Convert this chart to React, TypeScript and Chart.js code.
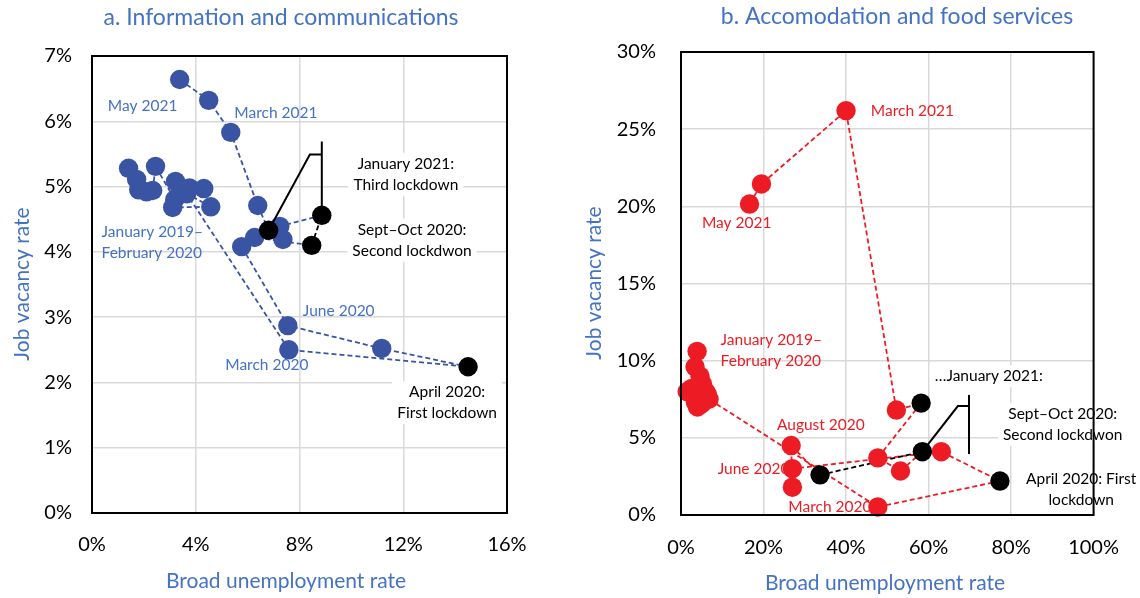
import React, { useEffect, useRef } from "react";
import { Chart, registerables } from "chart.js";

Chart.register(...registerables);

const FONT = "Lato, 'Open Sans', sans-serif";
const TEXT_BLUE = "#4472C4";
const MARK_BLUE = "#3A54A4";
const RED = "#ED1C24";
const BLACK = "#000000";
const GRID = "#D9D9D9";

// Monthly observations, January 2019 to May 2021
const months = [
  "Jan 2019", "Feb 2019", "Mar 2019", "Apr 2019", "May 2019", "Jun 2019", "Jul 2019",
  "Aug 2019", "Sep 2019", "Oct 2019", "Nov 2019", "Dec 2019", "Jan 2020", "Feb 2020",
  "Mar 2020", "Apr 2020", "May 2020", "Jun 2020", "Jul 2020", "Aug 2020", "Sep 2020",
  "Oct 2020", "Nov 2020", "Dec 2020", "Jan 2021", "Feb 2021", "Mar 2021", "Apr 2021",
  "May 2021",
];

// Lockdown months are marked in black
const lockdownMonths = ["Apr 2020", "Sep 2020", "Oct 2020", "Jan 2021"];

// a. Information and communications (percent)
const ictUnemployment = [
  1.41, 1.72, 1.8, 2.1, 2.34, 2.45, 3.19, 3.22, 3.76, 4.31, 3.11, 4.58, 3.4, 3.65,
  7.59, 14.5, 11.17, 7.55, 5.77, 6.27, 8.47, 8.86, 7.24, 7.36, 6.81, 6.39, 5.35, 4.5, 3.38,
];
const ictVacancy = [
  5.28, 5.11, 4.95, 4.92, 4.94, 5.31, 4.8, 5.08, 4.98, 4.97, 4.68, 4.69, 4.95, 4.89,
  2.5, 2.24, 2.52, 2.87, 4.08, 4.22, 4.1, 4.56, 4.39, 4.19, 4.33, 4.71, 5.83, 6.32, 6.64,
];

// b. Accommodation and food services (percent)
const foodUnemployment = [
  3.9, 3.4, 4.6, 5.2, 1.5, 2.6, 4.0, 6.0, 5.5, 3.5, 5.0, 6.4, 4.0, 6.8,
  47.7, 77.3, 63.1, 27.0, 27.0, 26.7, 33.7, 58.5, 53.2, 47.7, 58.2, 52.2, 40.0, 19.5, 16.6,
];
const foodVacancy = [
  10.6, 9.6, 9.0, 8.5, 8.0, 8.2, 8.3, 8.0, 7.6, 7.3, 7.2, 7.8, 7.0, 7.5,
  0.52, 2.2, 4.1, 3.0, 1.8, 4.5, 2.6, 4.1, 2.85, 3.7, 7.25, 6.8, 26.2, 21.45, 20.15,
];

type Note = {
  lines: string[];
  x: number;
  y: number;
  color: string;
  align: CanvasTextAlign;
  boxed?: boolean;
};

type Callout = {
  month: string;
  path: [number, number][];
  bar: [number, number, number];
};

type PanelSpec = {
  title: string;
  xs: number[];
  ys: number[];
  markColor: string;
  xMax: number;
  xStep: number;
  yMax: number;
  yStep: number;
  notes: Note[];
  callout: Callout;
  left: number;
  width: number;
  padTop: number;
  padRight: number;
  yAxisWidth: number;
  xAxisHeight: number;
  yTickPad: number;
  xTickPad: number;
  titlePos: [number, number];
  xTitlePos: [number, number];
  yTitlePos: [number, number];
};

const ictPanel: PanelSpec = {
  title: "a. Information and communications",
  xs: ictUnemployment,
  ys: ictVacancy,
  markColor: MARK_BLUE,
  xMax: 16,
  xStep: 4,
  yMax: 7,
  yStep: 1,
  notes: [
    { lines: ["May 2021"], x: 1.95, y: 6.24, color: TEXT_BLUE, align: "center" },
    { lines: ["March 2021"], x: 7.09, y: 6.13, color: TEXT_BLUE, align: "center" },
    { lines: ["January 2019–", "February 2020"], x: 0.37, y: 4.31, color: TEXT_BLUE, align: "left" },
    { lines: ["June 2020"], x: 8.13, y: 3.1, color: TEXT_BLUE, align: "left" },
    { lines: ["March 2020"], x: 6.74, y: 2.26, color: TEXT_BLUE, align: "center" },
    { lines: ["January 2021:", "Third lockdown"], x: 12.1, y: 5.35, color: BLACK, align: "center", boxed: true },
    { lines: ["Sept–Oct 2020:", "Second lockdwon"], x: 12.34, y: 4.34, color: BLACK, align: "center", boxed: true },
    { lines: ["April 2020:", "First lockdown"], x: 13.69, y: 1.85, color: BLACK, align: "center", boxed: true },
  ],
  callout: { month: "Jan 2021", path: [[8.4, 5.49], [8.86, 5.49]], bar: [8.86, 5.69, 4.56] },
  left: 0,
  width: 570,
  padTop: 56,
  padRight: 63,
  yAxisWidth: 92,
  xAxisHeight: 85,
  yTickPad: 20,
  xTickPad: 20,
  titlePos: [281, 18],
  xTitlePos: [286, 581],
  yTitlePos: [22, 284],
};

const foodPanel: PanelSpec = {
  title: "b. Accomodation and food services",
  xs: foodUnemployment,
  ys: foodVacancy,
  markColor: RED,
  xMax: 100,
  xStep: 20,
  yMax: 30,
  yStep: 5,
  notes: [
    { lines: ["March 2021"], x: 46.0, y: 26.2, color: RED, align: "left" },
    { lines: ["May 2021"], x: 13.5, y: 18.9, color: RED, align: "center" },
    { lines: ["January 2019–", "February 2020"], x: 9.6, y: 11.34, color: RED, align: "left" },
    { lines: ["August 2020"], x: 33.9, y: 5.83, color: RED, align: "center" },
    { lines: ["June 2020"], x: 17.6, y: 2.98, color: RED, align: "center" },
    { lines: ["March 2020"], x: 36.1, y: 0.52, color: RED, align: "center" },
    { lines: ["…January 2021:"], x: 74.6, y: 9.0, color: BLACK, align: "center", boxed: true },
    { lines: ["Sept–Oct 2020:", "Second lockdwon"], x: 92.5, y: 6.55, color: BLACK, align: "center", boxed: true },
    { lines: ["April 2020: First", "lockdown"], x: 97.0, y: 2.35, color: BLACK, align: "center", boxed: true },
  ],
  callout: { month: "Oct 2020", path: [[67.1, 7.06], [69.8, 7.06]], bar: [69.8, 7.78, 3.95] },
  left: 570,
  width: 570,
  padTop: 52,
  padRight: 43,
  yAxisWidth: 111,
  xAxisHeight: 83,
  yTickPad: 25,
  xTickPad: 21,
  titlePos: [327, 17],
  xTitlePos: [315, 583],
  yTitlePos: [24, 283],
};

const NOTE_SIZE = 15.5;
const NOTE_GAP = 21;

function decorations(p: PanelSpec) {
  return {
    id: "decorations",
    afterDatasetsDraw(chart: any) {
      const { ctx } = chart;
      const xs = chart.scales.x;
      const ys = chart.scales.y;
      const px = (v: number) => xs.getPixelForValue(v);
      const py = (v: number) => ys.getPixelForValue(v);

      ctx.save();
      ctx.strokeStyle = BLACK;
      ctx.lineWidth = 2;
      ctx.setLineDash([]);
      const i = months.indexOf(p.callout.month);
      ctx.beginPath();
      ctx.moveTo(px(p.xs[i]), py(p.ys[i]));
      for (const [cx, cy] of p.callout.path) ctx.lineTo(px(cx), py(cy));
      ctx.stroke();
      const [bx, by1, by2] = p.callout.bar;
      ctx.beginPath();
      ctx.moveTo(px(bx), py(by1));
      ctx.lineTo(px(bx), py(by2));
      ctx.stroke();

      ctx.font = `${NOTE_SIZE}px ${FONT}`;
      ctx.textBaseline = "middle";
      for (const n of p.notes) {
        const x0 = px(n.x);
        const y0 = py(n.y);
        ctx.textAlign = n.align;
        if (n.boxed) {
          const w = Math.max(...n.lines.map((l) => ctx.measureText(l).width));
          const left = n.align === "center" ? x0 - w / 2 : n.align === "left" ? x0 : x0 - w;
          ctx.fillStyle = "#ffffff";
          ctx.fillRect(left - 5, y0 - 11, w + 10, (n.lines.length - 1) * NOTE_GAP + 22);
        }
        ctx.fillStyle = n.color;
        n.lines.forEach((l, k) => ctx.fillText(l, x0, y0 + k * NOTE_GAP));
      }
      ctx.restore();
    },
    afterDraw(chart: any) {
      const { ctx, chartArea: a } = chart;
      ctx.save();
      ctx.strokeStyle = BLACK;
      ctx.lineWidth = 2;
      ctx.setLineDash([]);
      ctx.strokeRect(a.left, a.top, a.right - a.left, a.bottom - a.top);

      ctx.fillStyle = TEXT_BLUE;
      ctx.textAlign = "center";
      ctx.textBaseline = "middle";
      ctx.font = `23px ${FONT}`;
      ctx.fillText(p.title, p.titlePos[0], p.titlePos[1]);
      ctx.font = `21px ${FONT}`;
      ctx.fillText("Broad unemployment rate", p.xTitlePos[0], p.xTitlePos[1]);
      ctx.translate(p.yTitlePos[0], p.yTitlePos[1]);
      ctx.rotate(-Math.PI / 2);
      ctx.fillText("Job vacancy rate", 0, 0);
      ctx.restore();
    },
  };
}

function buildConfig(p: PanelSpec): any {
  const isLock = (i: number) => lockdownMonths.includes(months[i]);
  const pointColors = months.map((_, i) => (isLock(i) ? BLACK : p.markColor));
  const tickFont = { family: FONT, size: 20 };
  return {
    type: "scatter",
    data: {
      datasets: [
        {
          label: p.title,
          data: p.xs.map((x, i) => ({ x, y: p.ys[i] })),
          showLine: true,
          borderColor: p.markColor,
          borderWidth: 1.8,
          borderDash: [5, 3],
          segment: {
            borderColor: (c: any) =>
              isLock(c.p0DataIndex) && isLock(c.p1DataIndex) ? BLACK : p.markColor,
          },
          pointRadius: 9.7,
          pointHoverRadius: 9.7,
          pointBorderWidth: 0,
          pointBackgroundColor: pointColors,
          pointBorderColor: pointColors,
          clip: false,
        },
      ],
    },
    options: {
      animation: false,
      responsive: false,
      devicePixelRatio: 1,
      layout: { padding: { left: 0, top: p.padTop, right: p.padRight, bottom: 0 } },
      plugins: { legend: { display: false }, tooltip: { enabled: false }, title: { display: false } },
      events: [],
      scales: {
        x: {
          type: "linear",
          min: 0,
          max: p.xMax,
          border: { display: false },
          grid: { color: GRID, lineWidth: 1.5, drawTicks: false },
          ticks: {
            stepSize: p.xStep,
            padding: p.xTickPad,
            color: BLACK,
            font: tickFont,
            maxRotation: 0,
            callback: (v: number) => `${v}%`,
          },
          afterFit: (s: any) => {
            s.height = p.xAxisHeight;
          },
        },
        y: {
          type: "linear",
          min: 0,
          max: p.yMax,
          border: { display: false },
          grid: { color: GRID, lineWidth: 1.5, drawTicks: false },
          ticks: {
            stepSize: p.yStep,
            padding: p.yTickPad,
            color: BLACK,
            font: tickFont,
            callback: (v: number) => `${v}%`,
          },
          afterFit: (s: any) => {
            s.width = p.yAxisWidth;
          },
        },
      },
    },
    plugins: [decorations(p)],
  };
}

function Panel({ spec }: { spec: PanelSpec }) {
  const ref = useRef<HTMLCanvasElement>(null);
  useEffect(() => {
    const chart = new Chart(ref.current as HTMLCanvasElement, buildConfig(spec));
    return () => chart.destroy();
  }, [spec]);
  return (
    <canvas
      ref={ref}
      width={spec.width}
      height={598}
      style={{ position: "absolute", left: spec.left, top: 0, width: spec.width, height: 598 }}
    />
  );
}

export default function App() {
  return (
    <div
      style={{
        position: "absolute",
        left: 0,
        top: 0,
        width: 1140,
        height: 598,
        background: "#ffffff",
        overflow: "hidden",
      }}
    >
      <Panel spec={ictPanel} />
      <Panel spec={foodPanel} />
    </div>
  );
}
